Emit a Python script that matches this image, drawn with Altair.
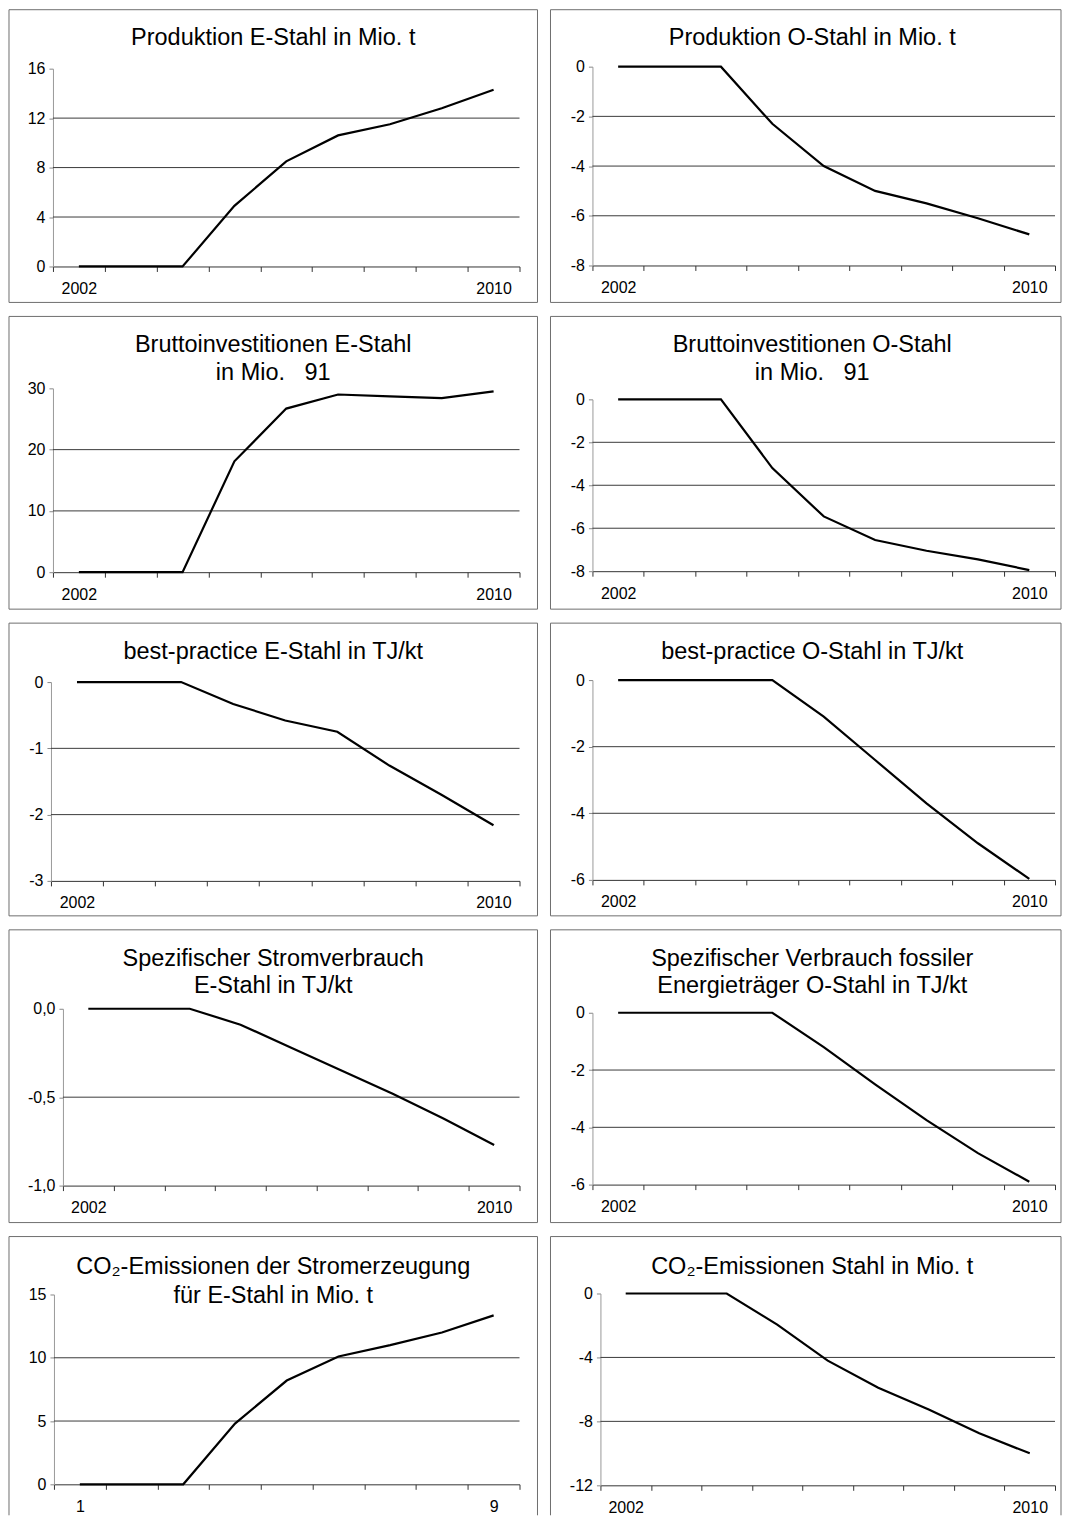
import altair as alt
import pandas as pd

FONT = "Liberation Sans"

years = ["2002", "2003", "2004", "2005", "2006", "2007", "2008", "2009", "2010"]
periods = ["1", "2", "3", "4", "5", "6", "7", "8", "9"]

titles = [
    ["Produktion E-Stahl in Mio. t"],
    ["Produktion O-Stahl in Mio. t"],
    ["Bruttoinvestitionen E-Stahl", "in Mio.\u00a0\u00a0\u00a091"],
    ["Bruttoinvestitionen O-Stahl", "in Mio.\u00a0\u00a0\u00a091"],
    ["best-practice E-Stahl in TJ/kt"],
    ["best-practice O-Stahl in TJ/kt"],
    ["Spezifischer Stromverbrauch", "E-Stahl in TJ/kt"],
    ["Spezifischer Verbrauch fossiler", "Energieträger O-Stahl in TJ/kt"],
    ["CO\u2082-Emissionen der Stromerzeugung", "für E-Stahl in Mio. t"],
    ["CO\u2082-Emissionen Stahl in Mio. t"],
]

prod_e = [0, 0, 0, 4.9, 8.5, 10.6, 11.5, 12.8, 14.3]
prod_o = [0, 0, 0, -2.3, -4.0, -5.0, -5.5, -6.1, -6.75]
inv_e = [0, 0, 0, 18.1, 26.7, 29.0, 28.7, 28.4, 29.5]
inv_o = [0, 0, 0, -3.2, -5.45, -6.55, -7.05, -7.45, -7.95]
bp_e = [0, 0, 0, -0.33, -0.58, -0.75, -1.26, -1.70, -2.16]
bp_o = [0, 0, 0, 0, -1.1, -2.4, -3.7, -4.9, -5.97]
strom_e = [0, 0, 0, -0.09, -0.22, -0.35, -0.48, -0.62, -0.77]
fossil_o = [0, 0, 0, 0, -1.2, -2.5, -3.75, -4.9, -5.9]
co2_strom = [0, 0, 0, 4.8, 8.2, 10.1, 11.0, 12.0, 13.35]
co2_stahl = [0, 0, 0, -1.95, -4.2, -5.9, -7.25, -8.75, -10.0]

ticks_prod_e = [0, 4, 8, 12, 16]
ticks_prod_o = [-8, -6, -4, -2, 0]
ticks_inv_e = [0, 10, 20, 30]
ticks_inv_o = [-8, -6, -4, -2, 0]
ticks_bp_e = [-3, -2, -1, 0]
ticks_bp_o = [-6, -4, -2, 0]
ticks_strom_e = [-1.0, -0.5, 0.0]
ticks_fossil_o = [-6, -4, -2, 0]
ticks_co2_strom = [0, 5, 10, 15]
ticks_co2_stahl = [-12, -8, -4, 0]

# ---- layout (page pixels) ----
COLS = {"L": dict(frame=(8, 537), origin=50, right=519, tcx=272.5),
        "R": dict(frame=(548, 1059), origin=590, right=1053, tcx=810)}
TOP_OFF = 57          # view top below frame top, same for every panel
FRAME_H = 293
FRAME_H_LAST = 279
# (plot_left_page, plot_top_below_frame_top, plot_h, title_y_rel_plot_top, side)
geos = [
    (52, 59, 198, [-31], "L"),
    (590, 57, 199, [-29], "R"),
    (52, 72, 184, [-43, -15], "L"),
    (590, 83, 172, [-54, -26], "R"),
    (50, 59, 199, [-30], "L"),
    (590, 57, 200, [-28], "R"),
    (62, 79, 177, [-50, -23], "L"),
    (590, 83, 172, [-54, -27], "R"),
    (53, 58, 190, [-28, 2], "L"),
    (598, 57, 192, [-27], "R"),
]

one = pd.DataFrame({"k": [0]})
FRAME = "#6e6e6e"


def panel(i, cats, vals, ticks, decimal=False, last=False):
    pl, ptop, h, tys, side = geos[i]
    col = COLS[side]
    ox = pl - col["origin"]
    w = col["right"] - pl
    oy = ptop - TOP_OFF
    L = col["frame"][0] - col["origin"]
    R = col["frame"][1] - col["origin"]
    T = -TOP_OFF
    B = T + (FRAME_H_LAST if last else FRAME_H)
    tx = col["tcx"] - col["origin"]
    ymin, ymax = min(ticks), max(ticks)
    if decimal:
        lab = "replace(replace(format(datum.value, '.1f'), '.', ','), '\u2212', '-')"
    else:
        lab = "toString(datum.value)"
    df = pd.DataFrame({"x": cats, "v": vals})
    gdf = pd.DataFrame({"v": [t for t in ticks if ymin < t < ymax]})

    xax = alt.Axis(
        title=None, tickBand="extent", labelAngle=0,
        labelExpr=f"datum.value == '{cats[0]}' || datum.value == '{cats[-1]}' ? datum.label : ''",
        labelFontSize=16, labelFont=FONT, labelColor="black", labelPadding=9,
        tickSize=5, tickColor="#333", domainColor="#333", grid=False,
    )
    yax = alt.Axis(
        title=None, values=ticks, labelExpr=lab, grid=False, offset=-ox,
        tickSize=4, tickColor="#888", domainColor="#999",
        labelFontSize=16, labelFont=FONT, labelColor="black", labelPadding=4,
    )
    yscale = alt.Scale(domain=[ymin, ymax], range=[oy + h, oy], nice=False, zero=False)

    grid = alt.Chart(gdf).mark_rule(color="#3a3a3a", strokeWidth=1).encode(
        y=alt.Y("v:Q", scale=yscale, axis=yax),
        x=alt.value(ox), x2=alt.value(ox + w),
    )
    line = alt.Chart(df).mark_line(color="black", strokeWidth=2.2).encode(
        x=alt.X("x:N", sort=cats, bandPosition=0.5,
                scale=alt.Scale(type="band", range=[ox, ox + w], paddingInner=0, paddingOuter=0),
                axis=xax),
        y=alt.Y("v:Q", scale=yscale, axis=yax),
    )
    layers = [grid, line]
    rule = lambda: alt.Chart(one).mark_rule(color=FRAME, strokeWidth=1)
    layers.append(rule().encode(x=alt.value(L), x2=alt.value(R), y=alt.value(T)))
    if not last:
        layers.append(rule().encode(x=alt.value(L), x2=alt.value(R), y=alt.value(B)))
    layers.append(rule().encode(x=alt.value(L), y=alt.value(T), y2=alt.value(B)))
    layers.append(rule().encode(x=alt.value(R), y=alt.value(T), y2=alt.value(B)))
    for txt, ty in zip(titles[i], tys):
        layers.append(
            alt.Chart(one).mark_text(font=FONT, fontSize=23.5, align="center", baseline="middle",
                                     color="black").encode(
                x=alt.value(tx), y=alt.value(oy + ty), text=alt.value(txt))
        )
    return alt.layer(*layers).properties(width=ox + w, height=oy + h)


p = [
    panel(0, years, prod_e, ticks_prod_e),
    panel(1, years, prod_o, ticks_prod_o),
    panel(2, years, inv_e, ticks_inv_e),
    panel(3, years, inv_o, ticks_inv_o),
    panel(4, years, bp_e, ticks_bp_e),
    panel(5, years, bp_o, ticks_bp_o),
    panel(6, years, strom_e, ticks_strom_e, decimal=True),
    panel(7, years, fossil_o, ticks_fossil_o),
    panel(8, periods, co2_strom, ticks_co2_strom, last=True),
    panel(9, years, co2_stahl, ticks_co2_stahl, last=True),
]

chart = (
    alt.concat(*p, columns=2, spacing={"row": 12, "column": 11})
    .properties(padding=0, background="white")
    .configure_view(strokeWidth=0)
)

chart.save("out.html", embed_options={"renderer": "svg", "actions": False})
